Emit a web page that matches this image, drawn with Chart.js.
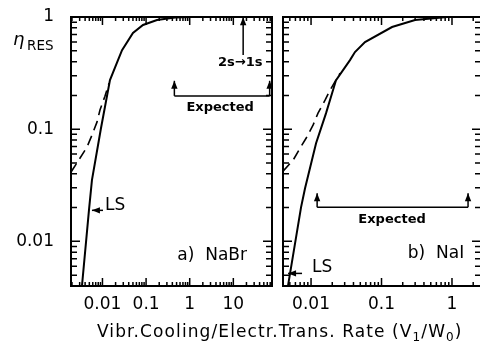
<!DOCTYPE html>
<html><head><meta charset="utf-8">
<script src="https://cdn.jsdelivr.net/npm/chart.js@4/dist/chart.umd.min.js"></script>
<style>
html,body{margin:0;padding:0;background:#fff;overflow:hidden;width:480px;height:352px;position:relative;}
canvas{position:absolute;top:0;}
#c1{left:0;}
#c2{left:278px;}
.t{position:absolute;font-family:'DejaVu Sans';color:#000;white-space:nowrap;line-height:1;}
</style></head><body>
<canvas id="c1" width="280" height="352" style="width:280px;height:352px"></canvas>
<canvas id="c2" width="206" height="352" style="width:206px;height:352px"></canvas>
<span class="t" style="left:13px;top:29.8px;font-size:18px;font-style:italic;">η</span>
<span class="t" style="left:27px;top:38.6px;font-size:13.5px;">RES</span>
<div class="t" id="xlab" style="left:97px;top:322.6px;font-size:17px;letter-spacing:1.1px;">Vibr.Cooling/Electr.Trans. Rate (V<sub style="font-size:12px;vertical-align:-4px;line-height:0">1</sub>/W<sub style="font-size:12px;vertical-align:-4px;line-height:0">0</sub>)</div>
<script>
// ---- data ----
const xTicksL = [0.01, 0.1, 1, 10];
const xTicksR = [0.01, 0.1, 1];
const yTicks = [0.01, 0.1, 1];

const nabrSolidX = [0.00338, 0.0049, 0.00574, 0.00924, 0.01486, 0.0227, 0.0281, 0.050, 0.085, 0.178, 0.46, 1.0, 77];
const nabrSolidY = [0.00396, 0.0189, 0.0351, 0.102, 0.274, 0.413, 0.507, 0.72, 0.849, 0.94, 0.99, 1, 1];
const nabrDashX = [0.00189, 0.00304, 0.0044, 0.00574, 0.00748, 0.00877, 0.0114, 0.0141];
const nabrDashY = [0.0413, 0.0551, 0.069, 0.0884, 0.1155, 0.148, 0.197, 0.257];

const naiSolidX = [0.00472, 0.00721, 0.00822, 0.01178, 0.01633, 0.02264, 0.0357, 0.042, 0.0583, 0.141, 0.299, 0.85, 2.6];
const naiSolidY = [0.00405, 0.0201, 0.0297, 0.075, 0.139, 0.274, 0.413, 0.487, 0.598, 0.814, 0.94, 1, 1];
const naiDashX = [0.00401, 0.00556, 0.00698, 0.0085, 0.01067, 0.01256, 0.0158, 0.0186, 0.0258];
const naiDashY = [0.0422, 0.0529, 0.0677, 0.083, 0.1086, 0.139, 0.1815, 0.223, 0.316];

// annotation anchors (data coordinates)
const annL = {
  expX: [0.445, 68], expLineY: 0.198, expTipY: 0.27, expText: [5.0, 0.155],
  trX: 16.8, trY: [0.458, 0.995], trText: [14.4, 0.388],
  lsArrow: [0.0103, 0.00574, 0.0189], lsText: [0.0115, 0.021],
  panel: ['a)  NaBr', 3.27, 0.0075]
};
const annR = {
  expX: [0.0122, 1.69], expLineY: 0.0201, expTipY: 0.0268, expText: [0.141, 0.0157],
  lsArrow: [0.00745, 0.00472, 0.00518], lsText: [0.0103, 0.00586],
  panel: ['b)  NaI', 0.593, 0.0078]
};

function pts(xs, ys){ return xs.map((x,i)=>({x:x, y:ys[i]})); }

function arrow(ctx, x1, y1, x2, y2){
  ctx.beginPath(); ctx.moveTo(x1,y1); ctx.lineTo(x2,y2); ctx.stroke();
  const a = Math.atan2(y2-y1, x2-x1), L = 8, W = 3.2;
  ctx.beginPath();
  ctx.moveTo(x2, y2);
  ctx.lineTo(x2 - L*Math.cos(a) + W*Math.sin(a), y2 - L*Math.sin(a) - W*Math.cos(a));
  ctx.lineTo(x2 - L*Math.cos(a) - W*Math.sin(a), y2 - L*Math.sin(a) + W*Math.cos(a));
  ctx.closePath(); ctx.fill();
}

function logTicks(min, max){
  const out = [];
  for (let e = Math.floor(Math.log10(min)); e <= Math.ceil(Math.log10(max)); e++){
    for (let m = 1; m <= 9; m++){
      const v = m * Math.pow(10, e);
      if (v >= min*0.999 && v <= max*1.001) out.push({v: v, major: m === 1});
    }
  }
  return out;
}

const framePlugin = {
  id: 'frame',
  afterDraw(chart){
    const {ctx, chartArea: a, scales: {x, y}} = chart;
    ctx.save();
    ctx.strokeStyle = '#000'; ctx.fillStyle = '#000';
    ctx.lineWidth = 1.5;
    logTicks(x.min, x.max).forEach(t => {
      const px = x.getPixelForValue(t.v), len = t.major ? 8 : 4;
      ctx.beginPath();
      ctx.moveTo(px, a.bottom); ctx.lineTo(px, a.bottom - len);
      ctx.moveTo(px, a.top); ctx.lineTo(px, a.top + len);
      ctx.stroke();
    });
    logTicks(y.min, y.max).forEach(t => {
      const py = y.getPixelForValue(t.v), len = t.major ? 9 : 6;
      ctx.beginPath();
      ctx.moveTo(a.left, py); ctx.lineTo(a.left + len, py);
      ctx.moveTo(a.right, py); ctx.lineTo(a.right - len, py);
      ctx.stroke();
    });
    ctx.lineWidth = 2;
    ctx.strokeRect(a.left, a.top, a.right - a.left, a.bottom - a.top);

    const ann = chart.options.plugins.frame.ann;
    const X = v => x.getPixelForValue(v), Y = v => y.getPixelForValue(v);
    ctx.lineWidth = 1.5;
    // Expected bracket
    const ly = Y(ann.expLineY), ty = Y(ann.expTipY);
    ctx.beginPath();
    ctx.moveTo(X(ann.expX[0]), ly); ctx.lineTo(X(ann.expX[1]), ly); ctx.stroke();
    arrow(ctx, X(ann.expX[0]), ly, X(ann.expX[0]), ty);
    arrow(ctx, X(ann.expX[1]), ly, X(ann.expX[1]), ty);
    ctx.textAlign = 'center'; ctx.textBaseline = 'middle';
    ctx.font = 'bold 13px "DejaVu Sans"';
    ctx.fillText('Expected', X(ann.expText[0]), Y(ann.expText[1]));
    if (ann.trX){
      arrow(ctx, X(ann.trX), Y(ann.trY[0]), X(ann.trX), Y(ann.trY[1]));
      ctx.fillText('2s\u21921s', X(ann.trText[0]), Y(ann.trText[1]));
    }
    // LS
    arrow(ctx, X(ann.lsArrow[0]), Y(ann.lsArrow[2]), X(ann.lsArrow[1]), Y(ann.lsArrow[2]));
    ctx.font = '17px "DejaVu Sans"';
    ctx.textAlign = 'left';
    ctx.fillText('LS', X(ann.lsText[0]), Y(ann.lsText[1]));
    ctx.textAlign = 'center';
    ctx.fillText(ann.panel[0], X(ann.panel[1]), Y(ann.panel[2]));
    ctx.restore();
  }
};

function makeChart(id, solid, dash, xmin, xmax, xticks, showY, pad, yw, ann){
  return new Chart(document.getElementById(id), {
    type: 'scatter',
    data: { datasets: [
      { data: solid, showLine: true, borderColor: '#000', borderWidth: 2, pointRadius: 0, tension: 0 },
      { data: dash, showLine: true, borderColor: '#000', borderWidth: 1.6, borderDash: [10, 6], pointRadius: 0, tension: 0 }
    ]},
    options: {
      responsive: false, animation: false, events: [],
      layout: { padding: pad },
      plugins: { legend: {display: false}, tooltip: {enabled: false}, frame: { ann: ann } },
      scales: {
        x: {
          type: 'logarithmic', min: xmin, max: xmax, bounds: 'data', position: 'bottom',
          grid: {display: false, drawTicks: false}, border: {display: false},
          ticks: { color: '#000', font: {family: 'DejaVu Sans', size: 17}, padding: 8, autoSkip: false, maxRotation: 0, callback: v => String(v) },
          afterBuildTicks: s => { s.ticks = xticks.map(v => ({value: v})); },
          afterFit: s => { s.height = 66; s.paddingLeft = 0; s.paddingRight = 0; }
        },
        y: {
          type: 'logarithmic', min: 0.004, max: 1, bounds: 'data', position: 'left',
          grid: {display: false, drawTicks: false}, border: {display: false},
          ticks: { display: showY, color: '#000', font: {family: 'DejaVu Sans', size: 17}, padding: 17, autoSkip: false, callback: v => String(v) },
          afterBuildTicks: s => { s.ticks = yTicks.map(v => ({value: v})); },
          afterFit: s => { s.width = yw; s.paddingTop = 0; s.paddingBottom = 0; }
        }
      }
    },
    plugins: [framePlugin]
  });
}

makeChart('c1', pts(nabrSolidX, nabrSolidY), pts(nabrDashX, nabrDashY), 0.0019, 77, xTicksL, true,
  {left: 0, top: 17, right: 8, bottom: 0}, 71, annL);
makeChart('c2', pts(naiSolidX, naiSolidY), pts(naiDashX, naiDashY), 0.004, 2.58, xTicksR, false,
  {left: 0, top: 17, right: 3, bottom: 0}, 5, annR);
</script>
</body></html>
